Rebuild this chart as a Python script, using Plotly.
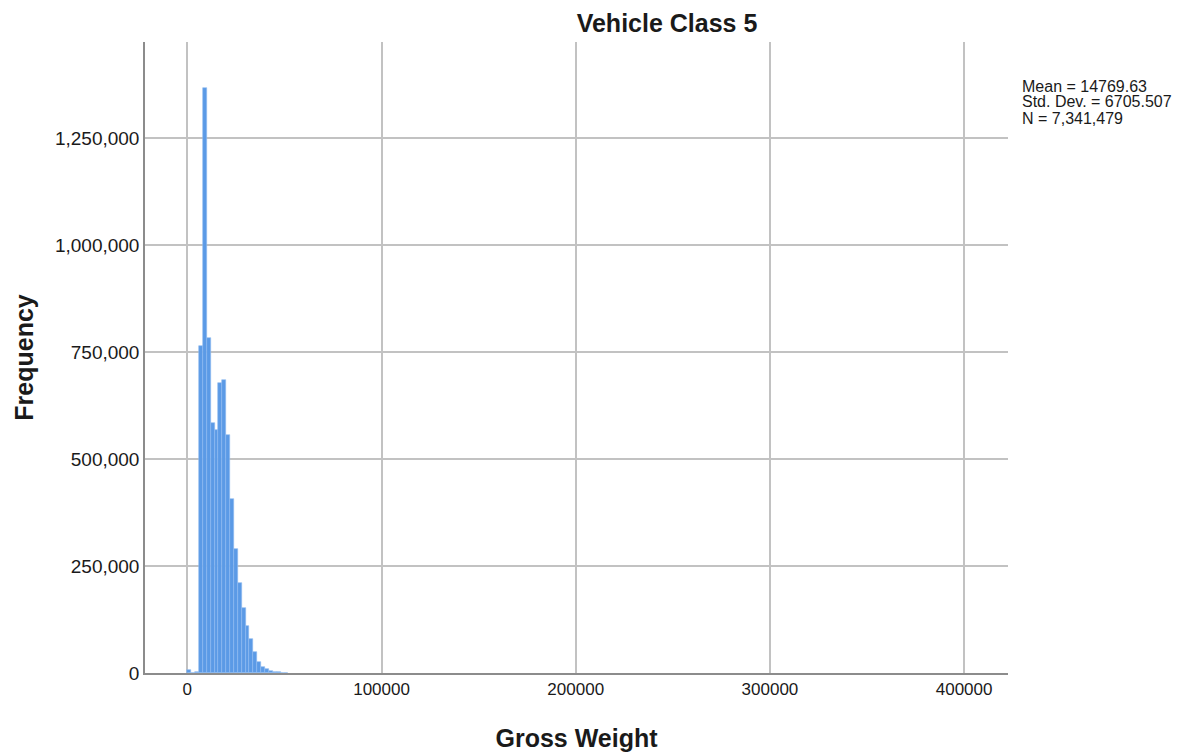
import plotly.graph_objects as go

# Histogram data: lower edge of each 2000-lb bin and its frequency
bin_start = [0, 2000, 4000, 6000, 8000, 10000, 12000, 14000, 16000, 18000,
             20000, 22000, 24000, 26000, 28000, 30000, 32000, 34000, 36000,
             38000, 40000, 42000, 44000, 46000, 48000, 50000]
counts = [8000, 1000, 3000, 764000, 1367000, 783000, 584000, 568000, 678000, 684000,
          556000, 407000, 290000, 210000, 152000, 110000, 79000, 49000, 26000,
          14000, 9000, 5000, 3000, 2000, 1000, 500]
bin_width = 2000

x_ticks = [0, 100000, 200000, 300000, 400000]
y_ticks = [0, 250000, 500000, 750000, 1000000, 1250000]

stats_lines = ["Mean = 14769.63", "Std. Dev. = 6705.507", "N = 7,341,479"]

FONT = "Liberation Sans, Arial, sans-serif"
TXT = "#1a1a1a"

# page body adds an 8px offset; figure is sized so the plot lands where the reference has it
W, H = 1184, 748
L, T, R, B = 137, 34, 184, 83
PW, PH = W - L - R, H - T - B

fig = go.Figure()
fig.add_trace(go.Bar(
    x=[b + bin_width / 2 for b in bin_start],
    y=counts,
    width=bin_width,
    marker=dict(color="#5b9ae6", line=dict(color="#8fbaf0", width=0.6)),
    hoverinfo="x+y",
))

annotations = []
for i, line in enumerate(stats_lines):
    fy = 78 + 16 * i
    annotations.append(dict(
        text=line, xref="paper", yref="paper",
        x=(1012 - L) / PW, y=1 - (fy - T) / PH,
        xanchor="left", yanchor="middle", align="left", showarrow=False,
        font=dict(size=16, family=FONT, color=TXT),
    ))

fig.update_layout(
    width=W, height=H,
    margin=dict(l=L, r=R, t=T, b=B, autoexpand=False),
    paper_bgcolor="white", plot_bgcolor="white",
    showlegend=False,
    bargap=0,
    font=dict(family=FONT, color=TXT),
    title=dict(text="<b>Vehicle Class 5</b>", x=659 / W, xanchor="center",
               y=1 - 15 / H, yanchor="middle",
               font=dict(size=25, family=FONT, color=TXT)),
    annotations=annotations,
)

fig.update_xaxes(
    automargin=False,
    range=[-21800, 422600],
    tickvals=x_ticks, tickformat="d",
    showgrid=True, gridcolor="#c2c2c2", gridwidth=1.5,
    showline=True, linecolor="#8c8c8c", linewidth=1.5,
    zeroline=False, ticks="",
    tickfont=dict(size=17, family=FONT, color=TXT),
    title=dict(text="<b>Gross Weight</b>", font=dict(size=25, family=FONT, color=TXT),
               standoff=31),
)
fig.update_yaxes(
    automargin=False,
    range=[0, 1474000],
    tickvals=y_ticks, tickformat=",d",
    showgrid=True, gridcolor="#c2c2c2", gridwidth=1.5,
    showline=True, linecolor="#8c8c8c", linewidth=1.5,
    zeroline=False, ticks="",
    tickfont=dict(size=19, family=FONT, color=TXT),
    title=dict(text="<b>Frequency</b>", font=dict(size=25, family=FONT, color=TXT),
               standoff=14),
)

fig.write_html("out.html")
